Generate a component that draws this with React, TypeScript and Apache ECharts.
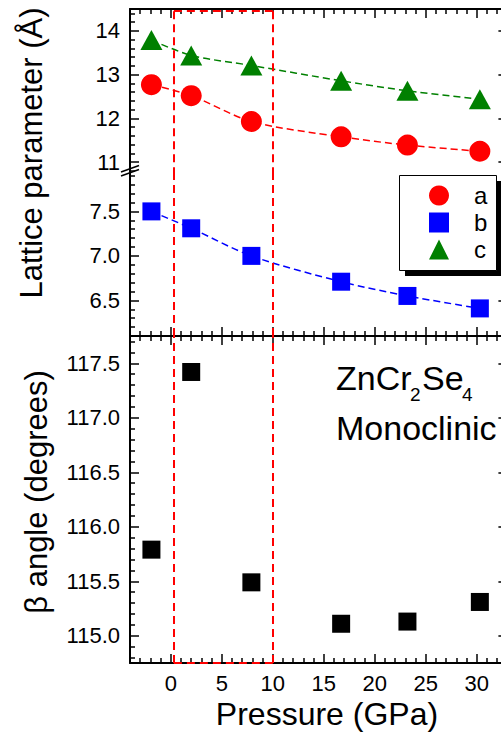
import React, { useEffect, useRef } from "react";
import * as echarts from "echarts";

// ---- data ----
const pressure = [-1.9, 2.0, 7.9, 16.7, 23.2, 30.3];
const latticeA = [12.77, 12.52, 11.93, 11.58, 11.39, 11.25];
const latticeB = [7.5, 7.31, 7.0, 6.71, 6.55, 6.41];
const latticeC = [13.79, 13.44, 13.21, 12.86, 12.63, 12.44];
const betaAngle = [115.79, 117.42, 115.49, 115.11, 115.13, 115.31];

// ---- axes ----
const xRange = [-4, 33];
const acRange = [10.73, 14.5];
const bRange = [6.1, 7.92];
const betaRange = [114.75, 117.75];

const xMajorTicks = [0, 5, 10, 15, 20, 25, 30];
const acMajorTicks = [11, 12, 13, 14];
const bMajorTicks = [6.5, 7.0, 7.5];
const betaMajorTicks = [115.0, 115.5, 116.0, 116.5, 117.0, 117.5];

const xMinorStep = 1;
const acMinorStep = 0.2;
const bMinorStep = 0.1;
const betaMinorStep = 0.1;

// red dashed region (GPa) and its top edge in the a/c panel
const regionX = [0.3, 10];
const regionTop = 14.45;

const FONT = "'Liberation Sans', Arial, sans-serif";

function minorTicks(range: number[], step: number, majors: number[]) {
  const out: number[] = [];
  const i0 = Math.ceil(range[0] / step - 1e-9);
  const i1 = Math.floor(range[1] / step + 1e-9);
  for (let i = i0; i <= i1; i++) {
    const v = Math.round(i * step * 1e6) / 1e6;
    if (Math.abs(v - range[0]) < 1e-6 || Math.abs(v - range[1]) < 1e-6) continue;
    if (majors.some((m) => Math.abs(m - v) < 1e-6)) continue;
    out.push(v);
  }
  return out;
}

const lineStyle = { color: "#000", width: 2 };
const tickStyle = { color: "#000", width: 1.5 };
const labelStyle = { fontSize: 22, color: "#000", fontFamily: FONT };

function axisPair(
  kind: "x" | "y",
  gridIndex: number,
  position: string,
  range: number[],
  majors: number[],
  minors: number[],
  showLabels: boolean,
  formatter?: (v: number) => string
) {
  const base = {
    type: "value",
    gridIndex,
    position,
    min: range[0],
    max: range[1],
    splitLine: { show: false },
    minorTick: { show: false },
    minorSplitLine: { show: false },
  };
  const major = {
    ...base,
    axisLine: { show: true, onZero: false, lineStyle },
    axisTick: { show: true, inside: true, length: 9, customValues: majors, lineStyle: tickStyle },
    axisLabel: {
      show: showLabels,
      customValues: majors,
      margin: kind === "x" ? 9 : 10,
      ...labelStyle,
      formatter: formatter,
    },
  };
  const minor = {
    ...base,
    axisLine: { show: false, onZero: false },
    axisTick: { show: true, inside: true, length: 5, customValues: minors, lineStyle: tickStyle },
    axisLabel: { show: false },
  };
  return [major, minor];
}

export default function App() {
  const ref = useRef<HTMLDivElement>(null);

  useEffect(() => {
    if (!ref.current) return;
    const chart = echarts.init(ref.current, undefined, { renderer: "svg" });

    const xMinor = minorTicks(xRange, xMinorStep, xMajorTicks);
    const acMinor = minorTicks(acRange, acMinorStep, acMajorTicks);
    const bMinor = minorTicks(bRange, bMinorStep, bMajorTicks);
    const betaMinor = minorTicks(betaRange, betaMinorStep, betaMajorTicks);

    const GL = 130;
    const GW = 377.4;
    const grids = [
      { left: GL, top: 9, width: GW, height: 165 },
      { left: GL, top: 174, width: GW, height: 162 },
      { left: GL, top: 336, width: GW, height: 327 },
    ];

    const xAxis = [
      ...axisPair("x", 0, "top", xRange, xMajorTicks, xMinor, false), // 0,1
      ...axisPair("x", 1, "bottom", xRange, xMajorTicks, xMinor, false), // 2,3
      ...axisPair("x", 2, "top", xRange, xMajorTicks, xMinor, false), // 4,5
      ...axisPair("x", 2, "bottom", xRange, xMajorTicks, xMinor, true, (v) => String(v)), // 6,7
    ];

    const yAxis = [
      ...axisPair("y", 0, "left", acRange, acMajorTicks, acMinor, true, (v) => String(v)), // 0,1
      ...axisPair("y", 0, "right", acRange, acMajorTicks, acMinor, false), // 2,3
      ...axisPair("y", 1, "left", bRange, bMajorTicks, bMinor, true, (v) => v.toFixed(1)), // 4,5
      ...axisPair("y", 1, "right", bRange, bMajorTicks, bMinor, false), // 6,7
      ...axisPair("y", 2, "left", betaRange, betaMajorTicks, betaMinor, true, (v) => v.toFixed(1)), // 8,9
      ...axisPair("y", 2, "right", betaRange, betaMajorTicks, betaMinor, false), // 10,11
    ];

    const markBase = {
      symbol: ["none", "none"],
      silent: true,
      label: { show: false },
      animation: false,
      lineStyle: { color: "#ff0000", type: [8, 5], width: 2 },
    };

    const pts = (vals: number[]) => pressure.map((p, i) => [p, vals[i]]);
    const fitLine = (color: string) => ({ color, type: [7, 4], width: 1.5 });

    const option = {
      animation: false,
      grid: grids,
      xAxis,
      yAxis,
      legend: {
        orient: "vertical",
        left: 429,
        top: 183.5,
        data: [
          { name: "a", icon: "circle" },
          { name: "b", icon: "rect" },
          { name: "c", icon: "triangle" },
        ],
        itemWidth: 20,
        itemHeight: 20,
        itemGap: 3,
        padding: 0,
        selectedMode: false,
        z: 12,
        formatter: (name: string) => "   " + name,
        textStyle: { fontSize: 24, color: "#000", fontFamily: FONT },
      },
      series: [
        {
          name: "a",
          type: "line",
          xAxisIndex: 0,
          yAxisIndex: 0,
          data: pts(latticeA),
          smooth: 0.3,
          symbol: "circle",
          symbolSize: 21,
          itemStyle: { color: "#ff0000", opacity: 1 },
          lineStyle: fitLine("#ff0000"),
          z: 3,
          markLine: {
            ...markBase,
            data: [
              [{ coord: [regionX[0], regionTop] }, { coord: [regionX[1], regionTop] }],
              [{ coord: [regionX[0], regionTop] }, { coord: [regionX[0], acRange[0]] }],
              [{ coord: [regionX[1], regionTop] }, { coord: [regionX[1], acRange[0]] }],
            ],
          },
        },
        {
          name: "c",
          type: "line",
          xAxisIndex: 0,
          yAxisIndex: 0,
          data: pts(latticeC),
          smooth: 0.3,
          symbol: "triangle",
          symbolSize: [22, 20],
          itemStyle: { color: "#008000", opacity: 1 },
          lineStyle: fitLine("#008000"),
          z: 3,
        },
        {
          name: "b",
          type: "line",
          xAxisIndex: 2,
          yAxisIndex: 4,
          data: pts(latticeB),
          smooth: 0.3,
          symbol: "rect",
          symbolSize: 18,
          itemStyle: { color: "#0000ff", opacity: 1 },
          lineStyle: fitLine("#0000ff"),
          z: 3,
          markLine: {
            ...markBase,
            data: [{ xAxis: regionX[0] }, { xAxis: regionX[1] }],
          },
        },
        {
          name: "beta",
          type: "scatter",
          xAxisIndex: 6,
          yAxisIndex: 8,
          data: pts(betaAngle),
          symbol: "rect",
          symbolSize: 18,
          itemStyle: { color: "#000", opacity: 1 },
          z: 3,
          markLine: {
            ...markBase,
            data: [
              { xAxis: regionX[0] },
              { xAxis: regionX[1] },
              [{ coord: [regionX[0], betaRange[0]] }, { coord: [regionX[1], betaRange[0]] }],
            ],
          },
        },
      ],
      graphic: [
        // legend frame with hard shadow
        { type: "rect", z: 11, shape: { x: 405, y: 181, width: 97, height: 95 }, style: { fill: "#000" } },
        { type: "rect", z: 11, shape: { x: 399.5, y: 175.5, width: 97, height: 95 }, style: { fill: "#fff", stroke: "#000", lineWidth: 1 } },
        // axis break mark
        { type: "line", z: 5, shape: { x1: 121, y1: 176, x2: 139, y2: 169.5 }, style: { stroke: "#000", lineWidth: 1.5 } },
        { type: "line", z: 5, shape: { x1: 121, y1: 172, x2: 139, y2: 165.5 }, style: { stroke: "#000", lineWidth: 1.5 } },
        {
          type: "text",
          x: 31,
          y: 153,
          rotation: Math.PI / 2,
          style: { text: "Lattice parameter (Å)", fontSize: 31, fontFamily: FONT, fill: "#000", align: "center", verticalAlign: "middle" },
        },
        {
          type: "text",
          x: 36,
          y: 492,
          rotation: Math.PI / 2,
          style: { text: "β angle (degrees)", fontSize: 31, fontFamily: FONT, fill: "#000", align: "center", verticalAlign: "middle" },
        },
        {
          type: "text",
          x: 327,
          y: 714,
          style: { text: "Pressure (GPa)", fontSize: 32, fontFamily: FONT, fill: "#000", align: "center", verticalAlign: "middle" },
        },
        { type: "text", x: 336, y: 378, style: { text: "ZnCr", fontSize: 34, fontFamily: FONT, fill: "#000", align: "left", verticalAlign: "middle" } },
        { type: "text", x: 410, y: 394, style: { text: "2", fontSize: 19, fontFamily: FONT, fill: "#000", align: "left", verticalAlign: "middle" } },
        { type: "text", x: 422, y: 378, style: { text: "Se", fontSize: 34, fontFamily: FONT, fill: "#000", align: "left", verticalAlign: "middle" } },
        { type: "text", x: 462, y: 394, style: { text: "4", fontSize: 19, fontFamily: FONT, fill: "#000", align: "left", verticalAlign: "middle" } },
        { type: "text", x: 336, y: 428, style: { text: "Monoclinic", fontSize: 34, fontFamily: FONT, fill: "#000", align: "left", verticalAlign: "middle" } },
      ],
    };

    chart.setOption(option as any);
    return () => chart.dispose();
  }, []);

  return (
    <div style={{ position: "fixed", left: 0, top: 0, width: 501, height: 738, overflow: "hidden", background: "#fff" }}>
      <div ref={ref} style={{ width: 520, height: 738 }} />
    </div>
  );
}
